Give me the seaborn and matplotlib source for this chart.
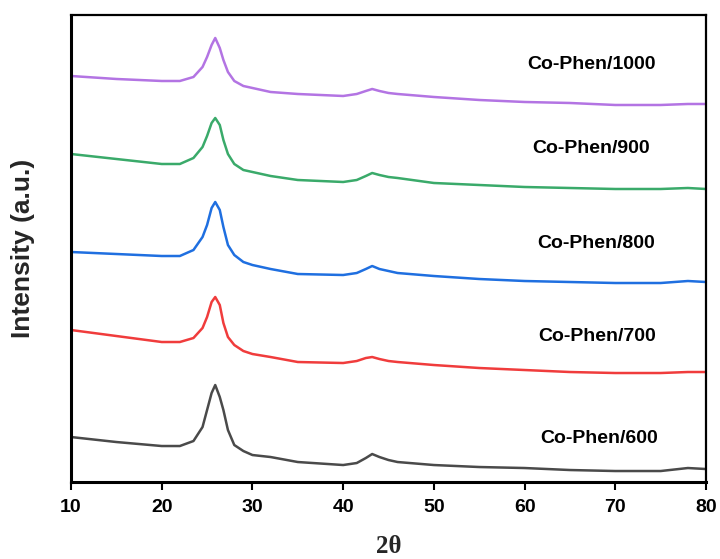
import matplotlib
matplotlib.use("Agg")
import matplotlib.pyplot as plt
import numpy as np
import pandas as pd
import seaborn as sns

# 2-theta sampling positions (degrees)
two_theta = [10, 15, 20, 22, 23.5, 24.5, 25, 25.5, 25.9, 26.4, 26.8, 27.3, 28, 29, 30,
             32, 35, 40, 41.5, 42.5, 43.2, 44, 45, 46, 50, 55, 60, 65, 70, 75, 78, 80]

# stacked XRD intensities (a.u., offset per sample)
co_phen_600 = [45, 40, 36, 36, 41, 55, 72, 89, 97, 85, 72, 52, 37, 31, 27,
               25, 20, 17, 19, 24, 28, 25, 22, 20, 17, 15, 14, 12, 11, 11, 14, 13]
co_phen_700 = [152, 146, 140, 140, 144, 154, 165, 180, 185, 177, 159, 145, 137, 131, 128,
               125, 120, 119, 121, 124, 125, 123, 121, 120, 117, 114, 112, 110, 109, 109, 110, 110]
co_phen_800 = [230, 228, 226, 226, 232, 245, 257, 274, 280, 272, 255, 237, 227, 220, 217,
               213, 208, 207, 209, 213, 216, 213, 211, 209, 206, 203, 201, 200, 199, 199, 201, 200]
co_phen_900 = [328, 323, 318, 318, 324, 335, 346, 359, 364, 357, 342, 328, 318, 312, 310,
               306, 302, 300, 302, 306, 309, 307, 305, 304, 299, 297, 295, 294, 293, 293, 294, 293]
co_phen_1000 = [406, 403, 401, 401, 405, 415, 425, 437, 444, 434, 422, 410, 401, 396, 394,
                390, 388, 386, 388, 391, 393, 391, 389, 388, 385, 382, 380, 379, 377, 377, 378, 378]

sample_names = ["Co-Phen/600", "Co-Phen/700", "Co-Phen/800", "Co-Phen/900", "Co-Phen/1000"]
line_colors = ["#4a4a4a", "#f03c3c", "#1f6fe0", "#3aaa6a", "#b374e3"]
label_x = [68.2, 68.0, 67.9, 67.3, 67.4]
label_y = [44, 146, 239, 333, 417]

series = [co_phen_600, co_phen_700, co_phen_800, co_phen_900, co_phen_1000]
frames = [pd.DataFrame({"two_theta": two_theta, "intensity": vals, "sample": name})
          for name, vals in zip(sample_names, series)]
df = pd.concat(frames, ignore_index=True)

sns.set_theme(style="white")
plt.rcParams["font.family"] = ["Liberation Sans", "DejaVu Sans"]

fig = plt.figure(figsize=(7.2, 5.59), dpi=100)
ax = fig.add_axes([0.0986, 0.1377, 0.882, 0.8355])

sns.lineplot(data=df, x="two_theta", y="intensity", hue="sample",
             hue_order=sample_names, palette=line_colors, estimator=None,
             sort=False, legend=False, linewidth=1.8, ax=ax)

for name, x, y in zip(sample_names, label_x, label_y):
    ax.text(x, y, name, ha="center", va="center", fontsize=14,
            fontweight="bold", color="black")

ax.set_xlim(10, 80)
ax.set_ylim(0, 467)
ax.set_xticks([10, 20, 30, 40, 50, 60, 70, 80])
ax.set_yticks([])

for tick in ax.get_xticklabels():
    tick.set_fontweight("bold")
    tick.set_fontsize(14)

ax.tick_params(axis="x", direction="out", length=6, width=1.5, pad=6,
               bottom=True, color="black", labelcolor="black")

for side in ["left", "bottom"]:
    ax.spines[side].set_linewidth(2.2)
    ax.spines[side].set_color("black")
for side in ["top", "right"]:
    ax.spines[side].set_linewidth(1.6)
    ax.spines[side].set_color("black")

ax.set_xlabel("2θ", fontsize=18, fontweight="bold",
              fontfamily=["Liberation Serif", "DejaVu Serif"], labelpad=14)
ax.set_ylabel("Intensity (a.u.)", fontsize=19, fontweight="bold", labelpad=26)

fig.savefig("out.png", dpi=100)
